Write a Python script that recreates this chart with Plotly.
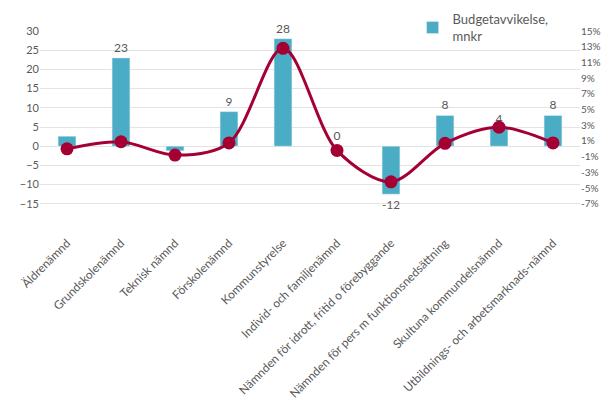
'''
    Budget deviation per committee (bars, mnkr) with a percentage line on a
    secondary axis.
'''

import plotly.graph_objects as go

categories = [
    "Äldrenämnd",
    "Grundskolenämnd",
    "Teknisk nämnd",
    "Förskolenämnd",
    "Kommunstyrelse",
    "Individ- och familjenämnd",
    "Nämnden för idrott, fritid o förebyggande",
    "Nämnden för pers m funktionsnedsättning",
    "Skultuna kommundelsnämnd",
    "Utbildnings- och arbetsmarknads-nämnd",
]
deviation_mnkr = [2.6, 23, -1.2, 9, 28, 0, -12.5, 8, 4.5, 8]
bar_labels = ["", "23", "", "9", "28", "0", "-12", "8", "4", "8"]
deviation_pct = [0.0, 0.9, -0.8, 0.75, 12.8, -0.2, -4.2, 0.7, 2.75, 0.75]

left_ticks = [-15, -10, -5, 0, 5, 10, 15, 20, 25, 30]
right_ticks = [-7, -5, -3, -1, 1, 3, 5, 7, 9, 11, 13, 15]

GRAY = "#595959"
BLUE = "#4BACC6"
RED = "#A50034"

fig = go.Figure()

fig.add_trace(go.Bar(
    x=categories, y=deviation_mnkr, name="Budgetavvikelse,<br>mnkr",
    marker_color=BLUE, width=0.33,
    text=bar_labels, textposition="outside", cliponaxis=False,
    textfont=dict(color=GRAY, size=12),
))

fig.add_trace(go.Scatter(
    x=categories, y=deviation_pct, yaxis="y2", mode="lines+markers",
    line=dict(color=RED, width=3, shape="spline", smoothing=0.9),
    marker=dict(color=RED, size=13), showlegend=False, cliponaxis=False,
))

# the page body has an 8px margin, so the figure is a bit smaller
fig.update_layout(
    width=608, height=395,
    margin=dict(l=32, r=36, t=23, b=180, autoexpand=False),
    plot_bgcolor="white", paper_bgcolor="white",
    font=dict(family="Lato, Open Sans, sans-serif", color=GRAY, size=10),
    xaxis=dict(range=[-0.5, 9.5], tickangle=-45, showline=False, ticks="",
               automargin=False, tickfont=dict(size=11.8),
               ticklabelstandoff=10),
    yaxis=dict(range=[-20, 30], tickvals=left_ticks, showgrid=True,
               gridcolor="#E3E3E3", zeroline=False, ticks="",
               automargin=False, tickfont=dict(size=11)),
    yaxis2=dict(range=[-9.444, 15], tickvals=right_ticks,
                ticktext=[f"{v}%" for v in right_ticks], overlaying="y",
                side="right", showgrid=False, zeroline=False,
                automargin=False, tickfont=dict(size=10)),
    legend=dict(x=0.69, y=1.14, xanchor="left", yanchor="top",
                bgcolor="rgba(0,0,0,0)", font=dict(size=13)),
    showlegend=True,
)

fig.write_html("out.html")
